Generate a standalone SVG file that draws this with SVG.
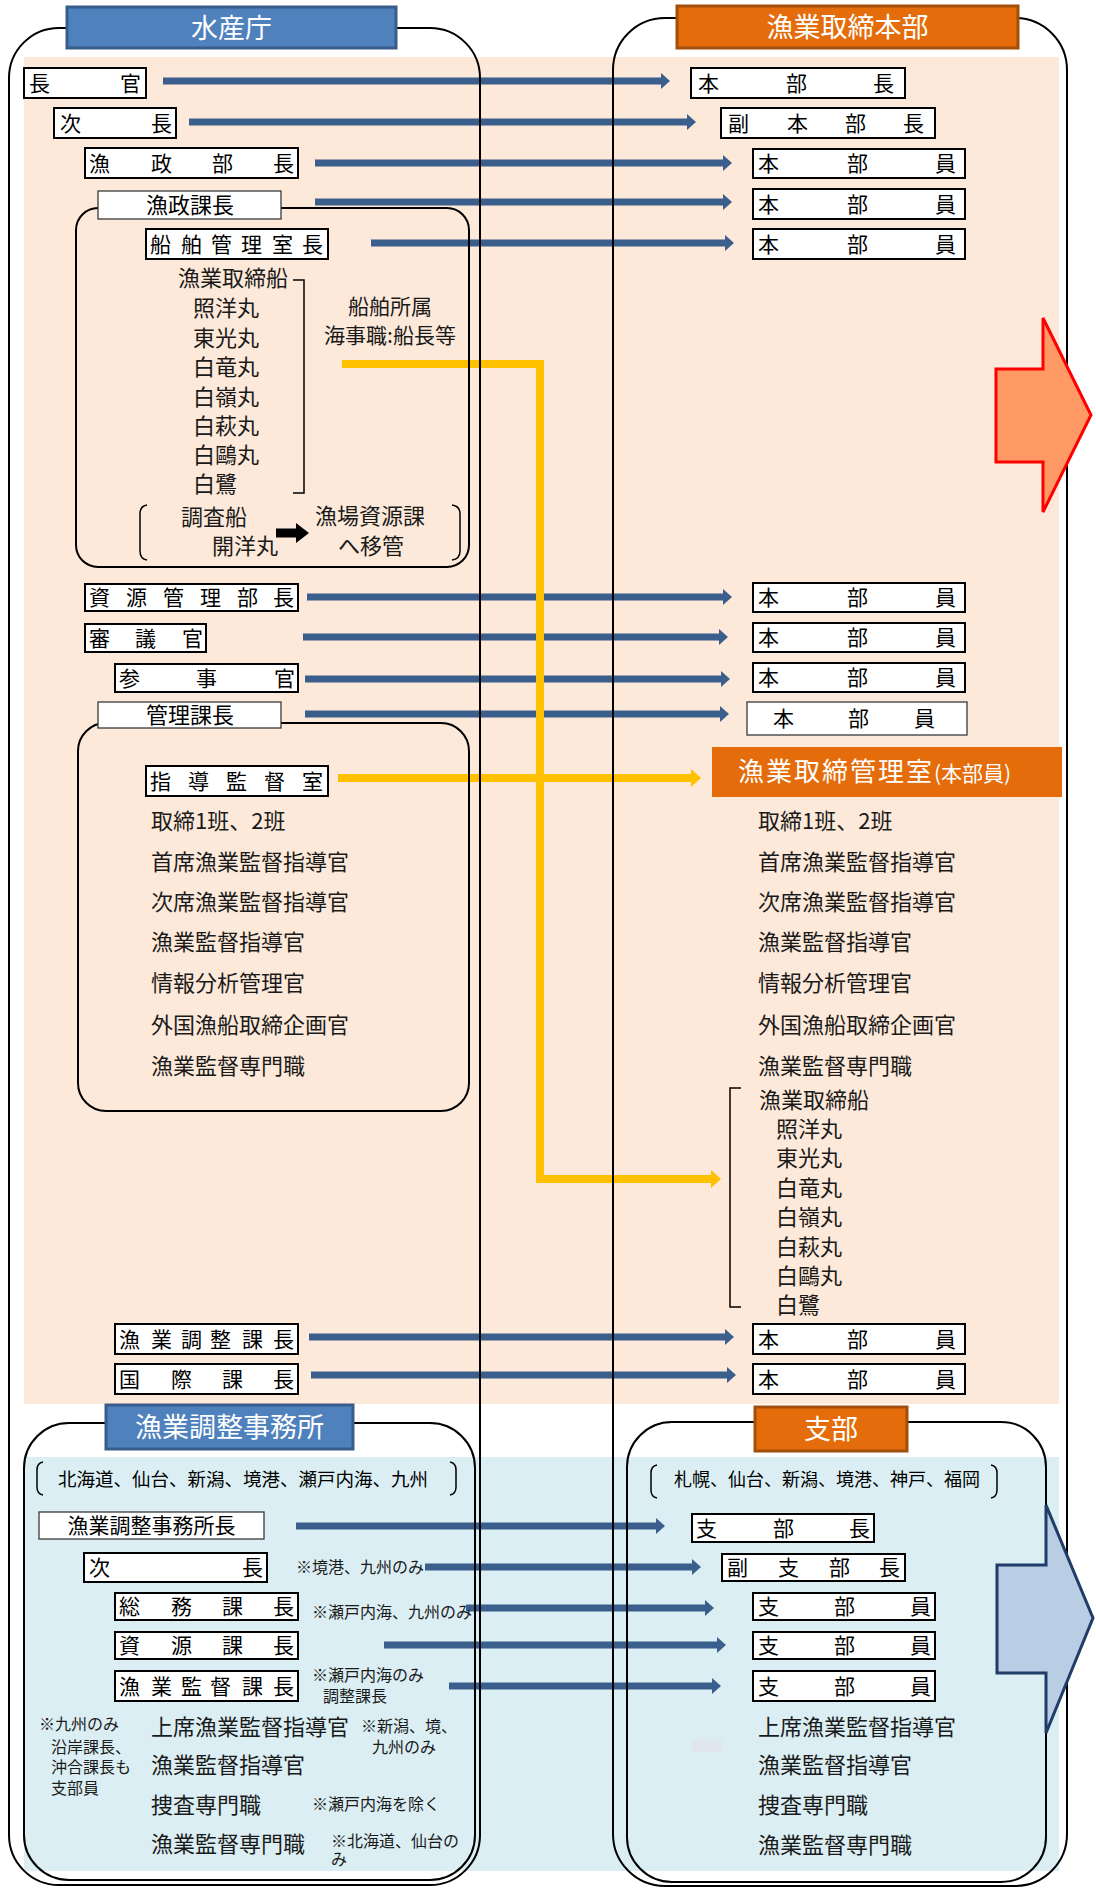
<svg xmlns="http://www.w3.org/2000/svg" width="1096" height="1888" viewBox="0 0 1096 1888">
<style>
.box{fill:#fff;stroke:#000;stroke-width:2}
.box2{fill:#fff;stroke:#3a3a3a;stroke-width:1.3}
.cont{fill:none;stroke:#000;stroke-width:2}
.br{fill:none;stroke:#000;stroke-width:1.5}
text{font-family:"Noto Sans CJK JP","Noto Sans CJK SC",sans-serif;fill:#000}
.bt{font-size:21px}
.lt{font-size:22px;fill:#1a1a1a}
.st{font-size:16px;fill:#1a1a1a}
.hd{font-size:27px;fill:#fff;text-anchor:middle}
.ba{stroke:#3B5F8C;stroke-width:7;fill:none;marker-end:url(#ab)}
.ya{stroke:#FFC000;stroke-width:8;fill:none;stroke-linejoin:miter;marker-end:url(#ay)}
.hb{fill:#4F81BD;stroke:#385D8A;stroke-width:3}
.ho{fill:#E46C0A;stroke:#A24F0B;stroke-width:3}
</style>
<defs>
<marker id="ab" markerUnits="userSpaceOnUse" markerWidth="10" markerHeight="18" refX="0" refY="9" orient="auto" overflow="visible"><path d="M0,1 L9,9 L0,17 z" fill="#3B5F8C"/></marker>
<marker id="ay" markerUnits="userSpaceOnUse" markerWidth="11" markerHeight="20" refX="0" refY="10" orient="auto" overflow="visible"><path d="M0,1 L10,10 L0,19 z" fill="#FFC000"/></marker>
</defs>
<rect width="1096" height="1888" fill="#fff"/>
<g id="backgrounds">
<rect x="24" y="57" width="1035" height="1347" fill="#FDE9D9"/>
<rect x="24" y="1457" width="1035" height="414" fill="#DAEEF3"/>
<rect x="692" y="1740" width="30" height="12" fill="#E0E6EE"/>
</g>
<g id="connectors">
<line class="ba" x1="163" y1="81" x2="661" y2="81"/>
<line class="ba" x1="189" y1="122" x2="687" y2="122"/>
<line class="ba" x1="315" y1="163" x2="723" y2="163"/>
<line class="ba" x1="315" y1="202" x2="723" y2="202"/>
<line class="ba" x1="371" y1="243" x2="725" y2="243"/>
<line class="ba" x1="307" y1="597" x2="723" y2="597"/>
<line class="ba" x1="303" y1="637" x2="719" y2="637"/>
<line class="ba" x1="305" y1="679" x2="721" y2="679"/>
<line class="ba" x1="305" y1="714" x2="720" y2="714"/>
<line class="ba" x1="309" y1="1337" x2="725" y2="1337"/>
<line class="ba" x1="311" y1="1375" x2="727" y2="1375"/>
<line class="ba" x1="296" y1="1526" x2="656" y2="1526"/>
<line class="ba" x1="425" y1="1567" x2="692" y2="1567"/>
<line class="ba" x1="466" y1="1608" x2="705" y2="1608"/>
<line class="ba" x1="384" y1="1645" x2="717" y2="1645"/>
<line class="ba" x1="449" y1="1686" x2="712" y2="1686"/>
<path class="ya" d="M342,364 H540 V1179 H711"/>
<path class="ya" d="M338,778 H691"/>
<polygon points="276,528.5 296,528.5 296,523 309,533 296,543 296,537.5 276,537.5" fill="#000"/>
</g>
<g id="containers">
<rect class="cont" x="9" y="28" width="471" height="1857" rx="50"/>
<rect class="cont" x="613" y="18" width="454" height="1868" rx="52"/>
<rect class="cont" x="76" y="208" width="393" height="359" rx="22"/>
<rect class="cont" x="78" y="723" width="391" height="388" rx="28"/>
<rect class="cont" x="24" y="1423" width="451" height="457" rx="45"/>
<rect class="cont" x="627" y="1422" width="419" height="460" rx="45"/>
</g>
<g id="brackets">
<path class="br" d="M293,280 H304 V493 H293"/>
<path class="br" d="M741,1088 H730 V1307 H741"/>
<path class="br" d="M147,505 Q140,506 140,514 V551 Q140,559 147,560"/>
<path class="br" d="M452,505 Q460,506 460,514 V551 Q460,559 452,560"/>
<path class="br" d="M43,1462 Q37,1463 37,1470 V1487 Q37,1494 43,1495"/>
<path class="br" d="M450,1462 Q456,1463 456,1470 V1487 Q456,1494 450,1495"/>
<path class="br" d="M657,1465 Q651,1466 651,1473 V1490 Q651,1497 657,1498"/>
<path class="br" d="M991,1465 Q997,1466 997,1473 V1490 Q997,1497 991,1498"/>
</g>
<g id="hdr-suisancho"><rect class="hb" x="67" y="7" width="329" height="41"/><text class="hd" x="231.5" y="38">水産庁</text></g>
<g id="hdr-honbu"><rect class="ho" x="677" y="6" width="341" height="42"/><text class="hd" x="847.5" y="37">漁業取締本部</text></g>
<g id="hdr-jimusho"><rect class="hb" x="106" y="1405" width="247" height="44"/><text class="hd" x="229.5" y="1437" style="font-size:27px">漁業調整事務所</text></g>
<g id="hdr-shibu"><rect class="ho" x="755" y="1407" width="152" height="44"/><text class="hd" x="831" y="1439">支部</text></g>
<g id="n-chokan"><rect class="box" x="24" y="68" width="122" height="30"/><text class="bt" x="29 120" y="90.5">長官</text></g>
<g id="n-jicho"><rect class="box" x="54" y="108" width="122" height="30"/><text class="bt" x="60 151" y="130.5">次長</text></g>
<g id="n-gyoseibucho"><rect class="box" x="85" y="148" width="213" height="30"/><text class="bt" x="89 151 212 273" y="170.5">漁政部長</text></g>
<g id="n-gyoseikacho"><rect class="box2" x="98" y="191" width="183" height="28"/><text class="lt" x="190" y="213" text-anchor="middle" style="fill:#000">漁政課長</text></g>
<g id="n-senpaku"><rect class="box" x="146" y="229" width="182" height="30"/><text class="bt" x="150 181 211 241 272 302" y="251.5">船舶管理室長</text></g>
<g id="n-honbucho"><rect class="box" x="691" y="68" width="214" height="30"/><text class="bt" x="698 786 873" y="90.5">本部長</text></g>
<g id="n-fukuhonbucho"><rect class="box" x="721" y="108" width="214" height="30"/><text class="bt" x="728 787 845 903" y="130.5">副本部長</text></g>
<g id="n-hb1"><rect class="box" x="753" y="149" width="212" height="29"/><text class="bt" x="758 847 935" y="171">本部員</text></g>
<g id="n-hb2"><rect class="box" x="753" y="189" width="212" height="30"/><text class="bt" x="758 847 935" y="211.5">本部員</text></g>
<g id="n-hb3"><rect class="box" x="753" y="229" width="212" height="30"/><text class="bt" x="758 847 935" y="251.5">本部員</text></g>
<g id="n-ships-left">
<text class="lt" x="178" y="286">漁業取締船</text>
<text class="lt" x="193" y="316">照洋丸</text>
<text class="lt" x="193" y="346">東光丸</text>
<text class="lt" x="193" y="375">白竜丸</text>
<text class="lt" x="193" y="405">白嶺丸</text>
<text class="lt" x="193" y="434">白萩丸</text>
<text class="lt" x="193" y="463">白鷗丸</text>
<text class="lt" x="193" y="492">白鷺</text>
<text class="lt" x="390" y="314" text-anchor="middle" style="font-size:21px">船舶所属</text>
<text class="lt" x="390" y="343" text-anchor="middle" style="font-size:21px">海事職:船長等</text>
<text class="lt" x="181" y="525">調査船</text>
<text class="lt" x="212" y="554">開洋丸</text>
<text class="lt" x="315" y="524">漁場資源課</text>
<text class="lt" x="338" y="554">へ移管</text>
</g>
<g id="n-shigen"><rect class="box" x="85" y="584" width="213" height="27"/><text class="bt" x="89 126 163 200 237 273" y="605">資源管理部長</text></g>
<g id="n-shingikan"><rect class="box" x="85" y="624" width="121" height="28"/><text class="bt" x="89 135 182" y="645.5">審議官</text></g>
<g id="n-sanjikan"><rect class="box" x="115" y="664" width="183" height="28"/><text class="bt" x="119 196 274" y="685.5">参事官</text></g>
<g id="n-kanrikacho"><rect class="box2" x="98" y="702" width="183" height="26"/><text class="lt" x="190" y="723" text-anchor="middle" style="fill:#000">管理課長</text></g>
<g id="n-hb4"><rect class="box" x="753" y="583" width="212" height="29"/><text class="bt" x="758 847 935" y="605">本部員</text></g>
<g id="n-hb5"><rect class="box" x="753" y="623" width="212" height="29"/><text class="bt" x="758 847 935" y="645">本部員</text></g>
<g id="n-hb6"><rect class="box" x="753" y="663" width="212" height="29"/><text class="bt" x="758 847 935" y="685">本部員</text></g>
<g id="n-hb7"><rect class="box2" x="747" y="702" width="220" height="33"/><text class="bt" x="773 848 914" y="726">本部員</text></g>
<g id="n-shido"><rect class="box" x="146" y="766" width="182" height="30"/><text class="bt" x="150 188 226 264 302" y="788.5">指導監督室</text></g>
<g id="n-list-left">
<text class="lt" x="151" y="829">取締1班、2班</text>
<text class="lt" x="151" y="870">首席漁業監督指導官</text>
<text class="lt" x="151" y="910">次席漁業監督指導官</text>
<text class="lt" x="151" y="950">漁業監督指導官</text>
<text class="lt" x="151" y="991">情報分析管理官</text>
<text class="lt" x="151" y="1033">外国漁船取締企画官</text>
<text class="lt" x="151" y="1074">漁業監督専門職</text>
</g>
<g id="n-kanrishitsu">
<rect x="712" y="747" width="350" height="50" fill="#E46C0A"/>
<text x="738" y="781" style="fill:#fff"><tspan style="font-size:26px;letter-spacing:2px">漁業取締管理室</tspan><tspan style="font-size:21px">(本部員)</tspan></text>
</g>
<g id="n-list-right">
<text class="lt" x="758" y="829">取締1班、2班</text>
<text class="lt" x="758" y="870">首席漁業監督指導官</text>
<text class="lt" x="758" y="910">次席漁業監督指導官</text>
<text class="lt" x="758" y="950">漁業監督指導官</text>
<text class="lt" x="758" y="991">情報分析管理官</text>
<text class="lt" x="758" y="1033">外国漁船取締企画官</text>
<text class="lt" x="758" y="1074">漁業監督専門職</text>
<text class="lt" x="759" y="1108">漁業取締船</text>
<text class="lt" x="776" y="1137">照洋丸</text>
<text class="lt" x="776" y="1166">東光丸</text>
<text class="lt" x="776" y="1196">白竜丸</text>
<text class="lt" x="776" y="1225">白嶺丸</text>
<text class="lt" x="776" y="1255">白萩丸</text>
<text class="lt" x="776" y="1284">白鷗丸</text>
<text class="lt" x="776" y="1313">白鷺</text>
</g>
<g id="n-chosei"><rect class="box" x="115" y="1324" width="183" height="30"/><text class="bt" x="119 151 181 210 242 273" y="1346.5">漁業調整課長</text></g>
<g id="n-kokusai"><rect class="box" x="115" y="1364" width="183" height="30"/><text class="bt" x="119 171 222 273" y="1386.5">国際課長</text></g>
<g id="n-hb8"><rect class="box" x="753" y="1324" width="212" height="30"/><text class="bt" x="758 847 935" y="1346.5">本部員</text></g>
<g id="n-hb9"><rect class="box" x="753" y="1364" width="212" height="30"/><text class="bt" x="758 847 935" y="1386.5">本部員</text></g>
<g id="n-jimusho-list">
<text x="58" y="1486" style="font-size:18.5px">北海道、仙台、新潟、境港、瀬戸内海、九州</text>
</g>
<g id="n-shocho"><rect class="box2" x="39" y="1512" width="225" height="27"/><text class="lt" x="151.5" y="1533" text-anchor="middle" style="fill:#000;font-size:21px">漁業調整事務所長</text></g>
<g id="n-jicho2"><rect class="box" x="84" y="1553" width="183" height="29"/><text class="bt" x="89 242" y="1575">次長</text></g>
<g id="n-somu"><rect class="box" x="115" y="1593" width="183" height="27"/><text class="bt" x="119 171 222 273" y="1614">総務課長</text></g>
<g id="n-shigenka"><rect class="box" x="115" y="1632" width="183" height="27"/><text class="bt" x="119 171 222 273" y="1653">資源課長</text></g>
<g id="n-kantoku"><rect class="box" x="115" y="1671" width="183" height="30"/><text class="bt" x="119 151 181 210 242 273" y="1693.5">漁業監督課長</text></g>
<g id="n-notes">
<text class="st" x="296" y="1573">※境港、九州のみ</text>
<text class="st" x="312" y="1618">※瀬戸内海、九州のみ</text>
<text class="st" x="312" y="1681">※瀬戸内海のみ</text>
<text class="st" x="323" y="1702">調整課長</text>
<text class="st" x="39" y="1730">※九州のみ</text>
<text class="st" x="51" y="1753">沿岸課長、</text>
<text class="st" x="51" y="1773">沖合課長も</text>
<text class="st" x="51" y="1794">支部員</text>
<text class="st" x="361" y="1732">※新潟、境、</text>
<text class="st" x="372" y="1753">九州のみ</text>
<text class="st" x="312" y="1810">※瀬戸内海を除く</text>
<text class="st" x="331" y="1847">※北海道、仙台の</text>
<text class="st" x="331" y="1865">み</text>
</g>
<g id="n-jimusho-staff">
<text class="lt" x="151" y="1735">上席漁業監督指導官</text>
<text class="lt" x="151" y="1773">漁業監督指導官</text>
<text class="lt" x="151" y="1813">捜査専門職</text>
<text class="lt" x="151" y="1852">漁業監督専門職</text>
</g>
<g id="n-shibu-list">
<text x="674" y="1486" style="font-size:18px">札幌、仙台、新潟、境港、神戸、福岡</text>
</g>
<g id="n-shibucho"><rect class="box" x="692" y="1514" width="182" height="28"/><text class="bt" x="696 773 849" y="1535.5">支部長</text></g>
<g id="n-fukushibucho"><rect class="box" x="722" y="1554" width="183" height="27"/><text class="bt" x="727 778 829 879" y="1575">副支部長</text></g>
<g id="n-sb1"><rect class="box" x="753" y="1593" width="182" height="27"/><text class="bt" x="758 834 910" y="1614">支部員</text></g>
<g id="n-sb2"><rect class="box" x="753" y="1632" width="182" height="27"/><text class="bt" x="758 834 910" y="1653">支部員</text></g>
<g id="n-sb3"><rect class="box" x="753" y="1671" width="182" height="30"/><text class="bt" x="758 834 910" y="1693.5">支部員</text></g>
<g id="n-shibu-staff">
<text class="lt" x="758" y="1735">上席漁業監督指導官</text>
<text class="lt" x="758" y="1773">漁業監督指導官</text>
<text class="lt" x="758" y="1813">捜査専門職</text>
<text class="lt" x="758" y="1853">漁業監督専門職</text>
</g>
<g id="block-arrows">
<polygon points="996,369 1043,369 1043,318 1091,415 1043,512 1043,462 996,462" fill="#FF9966" stroke="#FF0000" stroke-width="3"/>
<polygon points="997,1565 1046,1565 1046,1505 1093,1618 1046,1733 1046,1673 997,1673" fill="#B9CDE5" stroke="#1F3D66" stroke-width="3"/>
</g>
</svg>
